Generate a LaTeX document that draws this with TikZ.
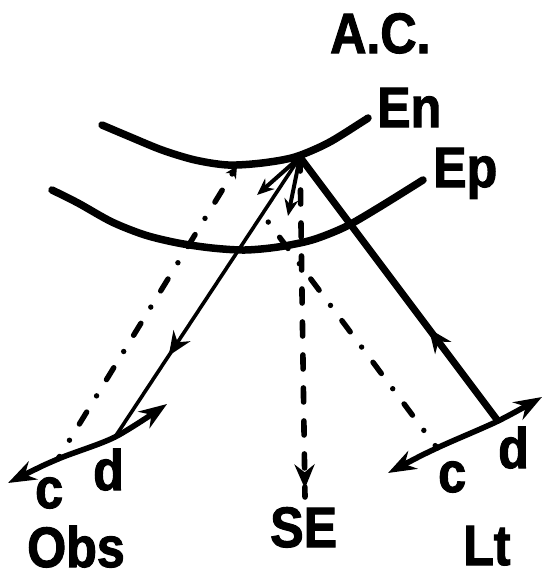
\documentclass[tikz,border=0pt]{standalone}
\usepackage{fontspec}
\newfontfamily\lblfont[FakeStretch=0.88,FakeBold=1.8]{Liberation Sans Bold}
\usetikzlibrary{arrows.meta,positioning,decorations.markings}
\tikzset{
  lbl/.style={font=\lblfont\fontsize{57}{60}\selectfont,
    inner sep=0pt,anchor=base west,text depth=0pt},
  surf/.style={line width=7.5pt,line cap=round},
  beam/.style={line width=7pt},
  thinbeam/.style={line width=3.6pt},
  arcax/.style={line width=5.6pt,
    {Stealth[length=28pt,width=20pt]}-{Stealth[length=28pt,width=20pt]}},
  dashln/.style={line width=5.6pt,line cap=round,dash pattern=on 14pt off 19pt},
  dotdash/.style={line width=5.4pt,line cap=round,
    dash pattern=on 14pt off 19pt on 0pt off 19pt,dash phase=11pt},
  midarr/.style={postaction={decorate},decoration={markings,
    mark=at position #1 with {\arrow{Stealth[length=24pt,width=20pt]}}}},
  shortarr/.style={line width=4pt,-{Stealth[length=17pt,width=14pt]}},
}

\begin{document}
\begin{tikzpicture}[x=1pt,y=-1pt]
  \useasboundingbox (0,0) rectangle (543,579);

  % reflection point and ends
  \coordinate (P) at (300,157);
  \coordinate (hitEn) at (237,166);
  \coordinate (sa) at (257,195);
  \coordinate (sb) at (288,216);
  \coordinate (seend) at (305,497);
  \coordinate (obsL) at (8,483);
  \coordinate (obsc) at (58,459);
  \coordinate (obsd) at (115,437);
  \coordinate (obsR) at (167,404);
  \coordinate (ltL) at (388,473);
  \coordinate (ltc) at (437,448);
  \coordinate (ltd) at (498,421);
  \coordinate (ltR) at (542,397);
  \coordinate (ltend) at (260,211);

  % surfaces
  \draw[surf] plot[smooth] coordinates
    {(102,125) (128,136) (162,150) (195,160) (228,165) (262,163)
     (295,157) (328,143) (362,122) (368,118)};
  \draw[surf] plot[smooth] coordinates
    {(52,190) (78,203) (112,222) (145,235) (178,243) (212,248)
     (245,250) (278,247) (312,240) (345,227) (378,208) (423,180)};

  \node[lbl] (tAC) at (330,53) {A.C.};
  \node[lbl] (tEn) at (377,127) {En};
  \node[lbl] (tEp) at (433,187) {Ep};

  % observer and light scales
  \draw[arcax] plot[smooth] coordinates {(obsL) (obsc) (obsd) (obsR)};
  \draw[arcax] plot[smooth] coordinates {(ltL) (ltc) (ltd) (ltR)};

  \node[lbl] (obsclbl) at (35,508) {c};
  \node[lbl] (obsdlbl) at (93,490) {d};
  \node[lbl] (obs) at (27,567) {Obs};
  \node[lbl] (ltclbl) at (438,492) {c};
  \node[lbl] (ltdlbl) at (498,468) {d};
  \node[lbl] (lt) at (463,565) {Lt};
  \node[lbl] (se) at (270,547) {SE};

  % rays
  \draw[beam,midarr=0.35] (ltd) -- (P);
  \draw[thinbeam,midarr=0.71] (P) -- (obsd);
  \draw[dashln,midarr=0.975] (P) -- (seend);
  \draw[shortarr] (P) -- (sa);
  \draw[shortarr] (P) -- (sb);
  \draw[dotdash,-{Stealth[length=12pt,width=12pt]}] (obsc) -- (hitEn);
  \draw[dotdash] (ltc) -- (ltend);
\end{tikzpicture}
\end{document}
